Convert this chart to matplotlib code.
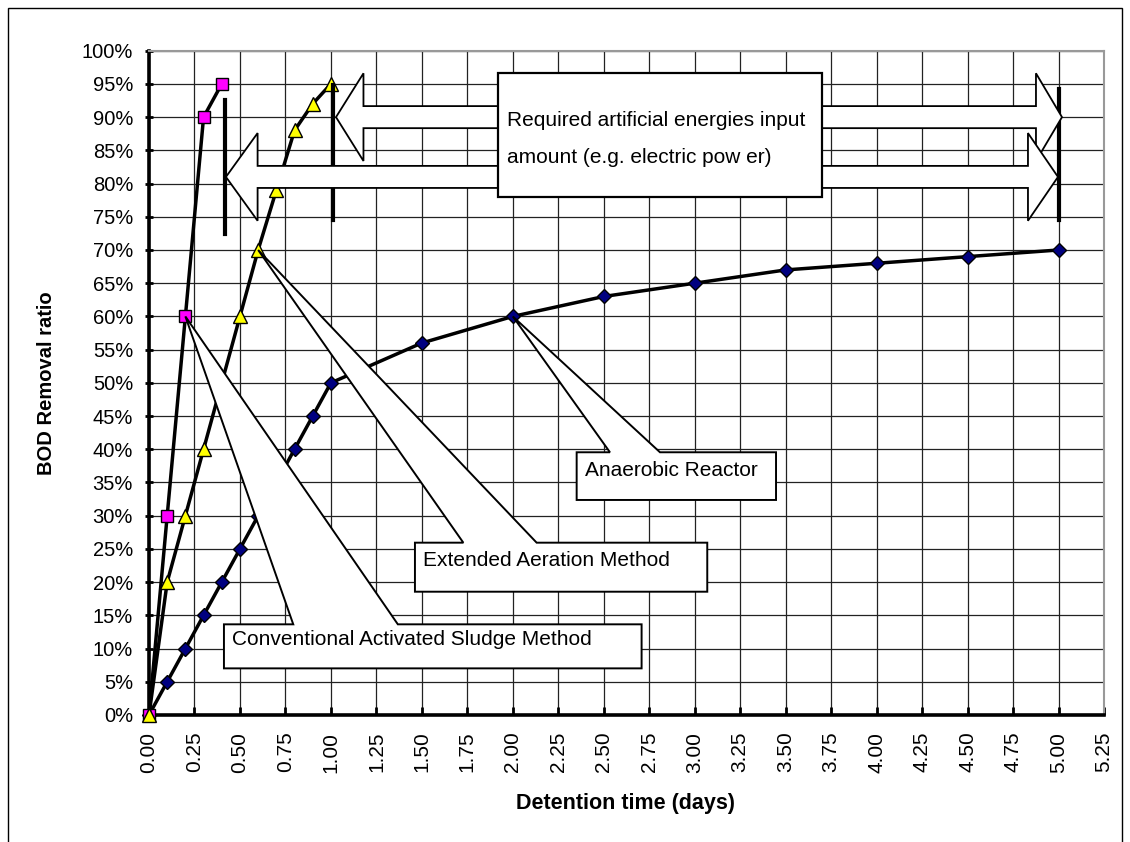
import numpy as np
import matplotlib
matplotlib.use("Agg")
import matplotlib.pyplot as plt
from matplotlib.patches import Polygon, Rectangle
from matplotlib.ticker import PercentFormatter

# datos (dias, fraccion de DBO eliminada)
conv_x = [0, 0.1, 0.2, 0.3, 0.4]
conv_y = [0, 0.30, 0.60, 0.90, 0.95]

ext_x = [0, 0.1, 0.2, 0.3, 0.5, 0.6, 0.7, 0.8, 0.9, 1.0]
ext_y = [0, 0.20, 0.30, 0.40, 0.60, 0.70, 0.79, 0.88, 0.92, 0.95]

ana_x = [0, 0.1, 0.2, 0.3, 0.4, 0.5, 0.6, 0.7, 0.8, 0.9, 1.0,
         1.5, 2.0, 2.5, 3.0, 3.5, 4.0, 4.5, 5.0]
ana_y = [0, 0.05, 0.10, 0.15, 0.20, 0.25, 0.30, 0.35, 0.40, 0.45, 0.50,
         0.56, 0.60, 0.63, 0.65, 0.67, 0.68, 0.69, 0.70]

x_ticks = np.arange(0, 5.26, 0.25)
y_ticks = np.arange(0, 1.001, 0.05)

plt.rcParams['font.family'] = ['Liberation Sans', 'DejaVu Sans']

W, H = 1130, 842
fig = plt.figure(figsize=(W / 100, H / 100), dpi=100)
ax = fig.add_axes([149 / W, 1 - 715 / H, (1104 - 149) / W, (715 - 50.7) / H])


# callout tipo Excel: caja con cuña hacia el punto
def callout(ax, x0, x1, y0, y1, wb0, wb1, punta, texto, tx, ty):
    pts = [(x0, y1), (wb0, y1), punta, (wb1, y1), (x1, y1), (x1, y0), (x0, y0)]
    ax.add_patch(Polygon(pts, closed=True, fc='white', ec='black', lw=1.4,
                         zorder=6, clip_on=False))
    ax.text(tx, ty, texto, fontsize=15, va='baseline', zorder=7)


# flecha doble de bloque
def flecha_doble(ax, xl, xr, yc, hl, hr, hh, sh):
    pts = [(xl, yc), (xl + hl, yc + hh), (xl + hl, yc + sh), (xr - hr, yc + sh),
           (xr - hr, yc + hh), (xr, yc), (xr - hr, yc - hh), (xr - hr, yc - sh),
           (xl + hl, yc - sh), (xl + hl, yc - hh)]
    ax.add_patch(Polygon(pts, closed=True, fc='white', ec='black', lw=1.3,
                         zorder=4, clip_on=False))


ax.plot(ana_x, ana_y, color='black', lw=2.5, marker='D', ms=7.5,
        mfc='#000080', mec='black', mew=1, zorder=3, clip_on=False)
ax.plot(conv_x, conv_y, color='black', lw=2.5, marker='s', ms=8,
        mfc='#FF00FF', mec='black', mew=1, zorder=3, clip_on=False)
ax.plot(ext_x, ext_y, color='black', lw=2.5, marker='^', ms=10,
        mfc='#FFFF00', mec='black', mew=1, zorder=3, clip_on=False)

# barras verticales al final de cada metodo
ax.plot([0.42, 0.42], [0.724, 0.926], color='black', lw=3, zorder=3.5)
ax.plot([1.01, 1.01], [0.745, 0.948], color='black', lw=3, zorder=3.5)
ax.plot([5.0, 5.0], [0.745, 0.943], color='black', lw=3, zorder=3.5)

flecha_doble(ax, 1.028, 5.019, 0.900, 0.151, 0.143, 0.066, 0.0166)
flecha_doble(ax, 0.423, 4.997, 0.810, 0.174, 0.165, 0.066, 0.0166)

ax.add_patch(Rectangle((1.919, 0.7798), 3.70 - 1.919, 0.9664 - 0.7798,
                       fc='white', ec='black', lw=1.6, zorder=5))
ax.text(1.968, 0.8867, 'Required artificial energies input', fontsize=15,
        va='baseline', zorder=7)
ax.text(1.968, 0.831, 'amount (e.g. electric pow er)', fontsize=15,
        va='baseline', zorder=7)

callout(ax, 0.412, 2.708, 0.0702, 0.1365, 0.793, 1.368, (conv_x[2], conv_y[2]),
        'Conventional Activated Sludge Method', 0.456, 0.1054)
callout(ax, 1.462, 3.069, 0.1856, 0.2594, 1.728, 2.131, (ext_x[5], ext_y[5]),
        'Extended Aeration Method', 1.506, 0.2243)
callout(ax, 2.351, 3.447, 0.3237, 0.3955, 2.534, 2.809, (ana_x[12], ana_y[12]),
        'Anaerobic Reactor', 2.397, 0.3598)

ax.set_xlim(0, 5.25)
ax.set_ylim(0, 1)
ax.set_xticks(x_ticks)
ax.set_xticklabels(['%.2f' % v for v in x_ticks], rotation=90)
ax.set_yticks(y_ticks)
ax.yaxis.set_major_formatter(PercentFormatter(1.0, decimals=0))
ax.grid(True, color='#222222', lw=0.9)
ax.set_axisbelow(True)

ax.tick_params(axis='y', direction='inout', length=6, width=2, pad=8.5,
               labelsize=14.5)
ax.tick_params(axis='x', direction='in', length=6, width=2, pad=12,
               labelsize=15)

for lado in ['left', 'bottom']:
    ax.spines[lado].set_linewidth(2.6)
    ax.spines[lado].set_color('black')
for lado in ['top', 'right']:
    ax.spines[lado].set_linewidth(1.5)
    ax.spines[lado].set_color('#999999')

fig.text(47 / W, 1 - 383 / H, 'BOD Removal ratio', rotation=90, fontsize=14.5,
         fontweight='bold', ha='center', va='center')
fig.text(625 / W, 1 - 803 / H, 'Detention time (days)', fontsize=15.5,
         fontweight='bold', ha='center', va='center')

# marco exterior del grafico
fig.patches.append(Rectangle((8 / W, -0.02), (1122 - 8) / W, 1.02 - 8 / H,
                             transform=fig.transFigure, fill=False,
                             ec='black', lw=1))

fig.savefig('out.png', dpi=100)
